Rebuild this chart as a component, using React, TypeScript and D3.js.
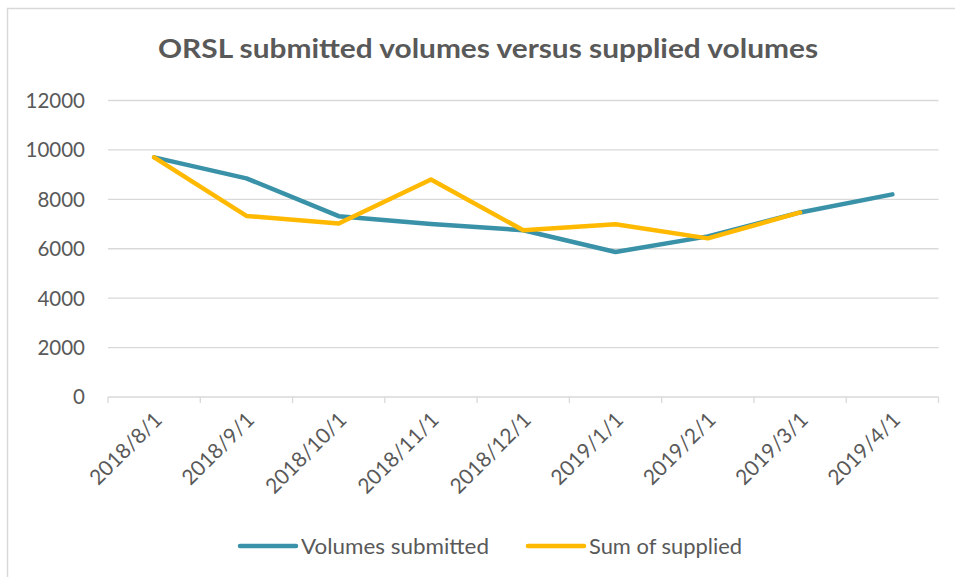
import React, { useEffect, useRef } from "react";
import * as d3 from "d3";

const categories = ["2018/8/1", "2018/9/1", "2018/10/1", "2018/11/1", "2018/12/1", "2019/1/1", "2019/2/1", "2019/3/1", "2019/4/1"];
const submitted = [9700, 8850, 7320, 7000, 6750, 5870, 6500, 7470, 8200];
const supplied = [9700, 7330, 7020, 8800, 6750, 6990, 6420, 7470];
const yTicks = [0, 2000, 4000, 6000, 8000, 10000, 12000];

const TEAL = "#3A92A8";
const GOLD = "#FFB900";
const TEXT = "#595959";
const GRID = "#D9D9D9";
const FONT = "Lato, 'Open Sans', sans-serif";

export default function App() {
  const svgRef = useRef<SVGSVGElement>(null);

  useEffect(() => {
    if (!svgRef.current) return;
    const svg = d3.select(svgRef.current);
    svg.selectAll("*").remove();

    const W = 955, H = 577;
    const left = 108, right = 938.5, top = 100.5, bottom = 397;

    svg.append("rect").attr("width", W).attr("height", H).attr("fill", "#fff");
    // outer chart border (only top/left visible)
    svg.append("rect").attr("x", 7.5).attr("y", 8.5).attr("width", 1000).attr("height", 700)
      .attr("fill", "none").attr("stroke", GRID).attr("stroke-width", 1.5);

    const x = d3.scaleBand<string>().domain(categories).range([left, right]);
    const cx = (c: string) => (x(c) || 0) + x.bandwidth() / 2;
    const y = d3.scaleLinear().domain([0, 12000]).range([bottom, top]);

    // title
    svg.append("text").attr("x", 158).attr("y", 58)
      .attr("textLength", 660).attr("lengthAdjust", "spacingAndGlyphs")
      .style("font-family", FONT).style("font-size", "27px").style("font-weight", "bold")
      .attr("fill", TEXT).text("ORSL submitted volumes versus supplied volumes");

    // grid
    svg.append("g").selectAll("line").data(yTicks.filter(d => d > 0)).join("line")
      .attr("x1", left).attr("x2", right).attr("y1", d => y(d)).attr("y2", d => y(d))
      .attr("stroke", GRID).attr("stroke-width", 1.3);

    // y labels
    svg.append("g").selectAll("text").data(yTicks).join("text")
      .attr("x", 85).attr("y", d => y(d)).attr("dy", "0.36em").attr("text-anchor", "end")
      .style("font-family", FONT).style("font-size", "20.5px").attr("fill", TEXT)
      .text(d => String(d));

    // x axis
    svg.append("line").attr("x1", left).attr("x2", right).attr("y1", bottom).attr("y2", bottom)
      .attr("stroke", GRID).attr("stroke-width", 1.3);
    const bounds = categories.map(c => x(c) || 0).concat([right]);
    svg.append("g").selectAll("line").data(bounds).join("line")
      .attr("x1", d => d).attr("x2", d => d).attr("y1", bottom).attr("y2", bottom + 6)
      .attr("stroke", GRID).attr("stroke-width", 1.3);

    svg.append("g").selectAll("text").data(categories).join("text")
      .attr("transform", c => `translate(${cx(c) + 4},${bottom + 19}) rotate(-45)`)
      .attr("text-anchor", "end").attr("dy", "0.35em")
      .style("font-family", FONT).style("font-size", "21px").attr("fill", TEXT)
      .text(c => c);

    const line = d3.line<[string, number]>().x(d => cx(d[0])).y(d => y(d[1]));
    const drawSeries = (vals: number[], color: string) => {
      const pts = vals.map((v, i) => [categories[i], v] as [string, number]);
      svg.append("path").datum(pts).attr("d", line).attr("fill", "none")
        .attr("stroke", color).attr("stroke-width", 4.5)
        .attr("stroke-linejoin", "round").attr("stroke-linecap", "round");
    };
    drawSeries(submitted, TEAL);
    drawSeries(supplied, GOLD);

    // legend
    const legend = [
      { name: "Volumes submitted", color: TEAL, x: 240, w: 188 },
      { name: "Sum of supplied", color: GOLD, x: 528, w: 153 },
    ];
    const ly = 546;
    legend.forEach(l => {
      svg.append("line").attr("x1", l.x).attr("x2", l.x + 56).attr("y1", ly).attr("y2", ly)
        .attr("stroke", l.color).attr("stroke-width", 4.5).attr("stroke-linecap", "round");
      svg.append("text").attr("x", l.x + 61).attr("y", ly).attr("dy", "0.36em")
        .attr("textLength", l.w).attr("lengthAdjust", "spacingAndGlyphs")
        .style("font-family", FONT).style("font-size", "21px").attr("fill", TEXT).text(l.name);
    });
  }, []);

  return (
    <svg ref={svgRef} width={955} height={577}
      style={{ position: "absolute", left: 0, top: 0, display: "block" }} />
  );
}
